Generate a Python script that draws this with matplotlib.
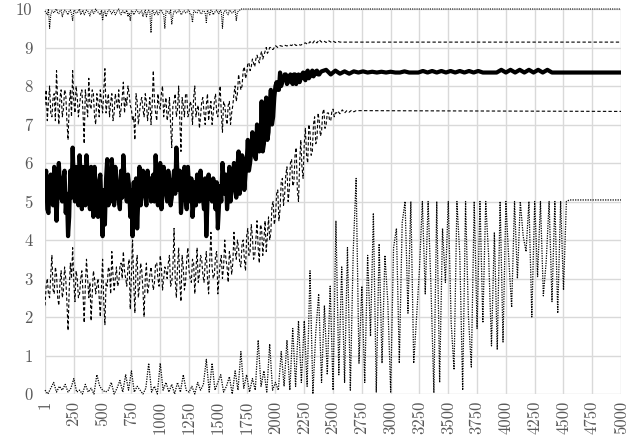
import numpy as np
import matplotlib
matplotlib.use("Agg")
import matplotlib.pyplot as plt

# ---------------- data ----------------
tick_values = [1, 250, 500, 750, 1000, 1250, 1500, 1750, 2000, 2250, 2500,
               2750, 3000, 3250, 3500, 3750, 4000, 4250, 4500, 4750, 5000]
tick_labels = [str(v) for v in tick_values]
y_ticks = list(range(0, 11))
x_end = 5000

# top series (near 10): samples every 20 iterations, plus in-between samples
top_step = 20
top_vals = [9.95, 9.85, 9.5, 9.95, 9.9, 10, 9.88, 9.97, 9.9, 9.95, 9.85, 9.97, 9.7, 9.95,
            9.9, 10, 9.92, 9.85, 9.97, 9.9, 9.95, 9.88, 10, 9.92, 9.85, 9.7, 9.95, 9.9,
            9.97, 9.87, 9.95, 9.9, 10, 9.85, 9.95, 9.92, 9.8, 9.7, 9.95, 9.9, 9.97, 9.88,
            9.95, 9.9, 9.8, 9.97, 9.38, 9.95, 9.9, 9.85, 9.97, 9.9, 9.5, 9.95, 9.88, 9.6,
            9.95, 9.9, 9.97, 9.85, 9.95, 9.9, 9.97, 9.85, 9.65, 9.95, 9.9, 9.97, 9.88, 9.95,
            9.65, 9.92, 9.97, 9.85, 9.95, 9.9, 9.97, 9.5, 9.95, 9.88, 9.97, 9.9, 9.95, 9.7,
            9.95, 10]
top_mid = [9.9, 10, 9.85, 9.92, 9.97, 9.9, 9.95, 9.8, 9.97, 9.9, 9.95, 9.88, 9.97, 9.9,
           9.95, 9.85, 9.97, 9.9, 9.95, 9.82, 9.97, 9.9, 9.95, 9.88, 9.97, 9.9, 9.8, 9.97,
           9.92, 9.95, 9.85, 9.97, 9.9, 9.95, 9.88, 9.97, 9.9, 9.95, 9.85, 9.97, 9.9, 9.95,
           9.8, 9.97, 9.9, 9.92, 9.97, 9.85, 9.95, 9.9, 9.97, 9.88, 9.95, 9.9, 9.97, 9.82,
           9.95, 9.9, 9.97, 9.88, 9.95, 9.9, 9.97, 9.85, 9.95, 9.9, 9.97, 9.88, 9.95, 9.9,
           9.97, 9.85, 9.95, 9.9, 9.97, 9.88, 9.95, 9.9, 9.97, 9.85, 9.95, 9.9, 9.97, 9.92,
           9.97]
top_plateau = 10.0

# upper band series
upper_step = 20
upper_vals = [7.5, 7.1, 8.0, 7.2, 7.8, 8.4, 7.0, 7.9, 7.4, 7.8, 6.6, 7.9, 8.4, 7.3, 7.7,
              7.5, 7.9, 6.5, 7.6, 8.2, 7.4, 7.8, 7.0, 7.6, 7.9, 7.3, 8.45, 7.6, 7.2, 7.8,
              7.3, 7.6, 7.9, 7.4, 8.1, 7.7, 8.0, 7.5, 7.1, 6.6, 7.6, 7.3, 7.7, 7.2, 7.6,
              7.4, 7.0, 8.4, 7.3, 7.8, 7.4, 8.0, 7.5, 7.1, 7.7, 6.4, 7.6, 7.2, 8.0, 6.3,
              7.5, 7.8, 7.2, 7.6, 7.0, 8.0, 7.4, 6.9, 7.6, 7.3, 7.5, 7.1, 7.6, 7.3, 7.8,
              7.2, 8.0, 6.8, 7.5, 7.0, 7.6, 7.3, 7.8, 7.6, 8.3, 7.9, 8.4, 8.2, 8.6, 8.4,
              8.7, 8.5, 8.8, 8.6, 8.9, 8.8, 9.0, 8.9, 9.0, 8.95, 9.05, 9.0, 9.05, 9.03,
              9.06, 9.04, 9.07, 9.05, 9.1, 9.05, 9.08, 9.06, 9.1, 9.12, 9.08, 9.15, 9.1,
              9.18, 9.12, 9.2, 9.14, 9.17, 9.13, 9.18, 9.14, 9.17, 9.13, 9.16, 9.14]
upper_mid = [7.9, 7.6, 7.3, 7.7, 7.1, 7.6, 7.7, 7.2, 7.9, 7.1, 7.5, 7.2, 7.6, 8.0, 7.2,
             7.8, 7.3, 7.9, 7.2, 7.5, 7.9, 7.2, 7.8, 7.2, 7.6, 7.9, 7.3, 7.8, 7.6, 7.1,
             7.8, 7.4, 7.2, 7.7, 7.3, 7.5, 7.8, 7.4, 7.2, 7.8, 7.0, 7.6, 7.4, 7.8, 7.1,
             7.7, 7.5, 7.6, 7.1, 7.5, 7.8, 7.2, 7.7, 7.3, 7.0, 7.5, 7.8, 7.4, 7.1, 7.7,
             7.2, 7.8, 7.3, 7.5, 7.7, 7.2, 7.5, 7.2, 7.7, 7.0, 7.8, 7.4, 7.0, 7.6, 7.3,
             7.6, 7.3, 7.6, 7.2, 7.5, 7.0, 7.5, 8.0, 7.8, 8.1, 8.0, 8.5, 8.3, 8.6, 8.5,
             8.6, 8.7, 8.7, 8.8, 8.7, 8.9, 8.85, 9.0, 8.95, 9.0]
upper_plateau = 9.14

# mean series (thick black)
mean_step = 20
mean_vals = [5.4, 4.8, 5.5, 5.0, 5.9, 4.5, 6.0, 5.1, 5.6, 4.7, 4.1, 5.8, 6.4, 5.0, 5.6,
             6.2, 4.8, 5.5, 6.2, 5.2, 5.9, 4.6, 5.4, 4.6, 5.7, 4.1, 4.4, 6.1, 5.3, 6.1,
             4.9, 5.6, 5.0, 5.8, 6.2, 5.3, 5.7, 4.6, 4.1, 5.0, 4.3, 5.9, 5.2, 5.6, 4.9,
             5.5, 5.0, 5.7, 6.2, 4.9, 6.0, 5.2, 5.6, 5.0, 5.5, 5.1, 5.8, 6.4, 5.3, 4.7,
             5.6, 5.1, 5.9, 5.0, 4.6, 5.5, 5.7, 5.0, 5.4, 4.8, 4.1, 5.7, 5.1, 5.6, 4.8,
             4.3, 5.4, 6.0, 5.2, 4.8, 5.9, 5.3, 6.0, 5.1, 6.3, 5.5, 6.1, 5.7, 6.6, 6.0,
             6.8, 6.2, 7.0, 6.3, 7.6, 6.5, 7.7, 6.8, 7.9, 7.2, 8.0, 7.9, 8.35, 8.1, 8.3,
             8.05, 8.25, 8.1, 8.3, 8.05, 8.3, 8.2, 8.35, 8.15, 8.4, 8.25, 8.4, 8.3, 8.4,
             8.3, 8.38]
mean_mid = [5.8, 4.7, 5.7, 4.9, 5.2, 5.3, 5.4, 5.0, 5.8, 5.2, 4.6, 5.1, 5.5, 5.9, 4.9,
            5.6, 5.9, 4.9, 5.7, 4.8, 5.3, 5.9, 5.0, 5.5, 4.9, 5.3, 5.6, 4.9, 5.0, 5.5,
            5.9, 5.2, 4.8, 5.1, 5.6, 5.0, 5.4, 5.3, 5.5, 5.6, 5.1, 4.9, 5.8, 5.2, 5.8,
            5.6, 5.3, 5.0, 5.5, 5.4, 4.8, 5.9, 5.3, 5.8, 4.9, 5.5, 5.2, 5.7, 5.8, 5.1,
            5.9, 4.8, 5.4, 5.6, 5.0, 4.9, 5.3, 5.8, 5.1, 5.6, 5.0, 5.3, 5.0, 5.3, 5.5,
            4.9, 5.0, 5.6, 5.7, 5.2, 5.0, 5.5, 5.4, 5.9, 5.2, 6.2, 5.3, 6.0, 5.8, 6.3,
            6.6, 6.1, 6.9, 6.4, 6.3, 7.4, 6.6, 7.5, 7.0, 7.7, 8.1, 7.9, 8.0, 8.2, 8.3,
            8.1, 8.3, 8.05, 8.3, 8.2, 8.1, 8.3, 8.2, 8.35, 8.2, 8.35, 8.25, 8.38, 8.3,
            8.35]
mean_tail_start = 2441
mean_tail_step = 40
mean_tail_vals = [8.42, 8.3, 8.4, 8.32, 8.38, 8.32, 8.38, 8.35, 8.38, 8.35, 8.37, 8.35,
                  8.37, 8.35, 8.37, 8.35, 8.35, 8.38, 8.35, 8.35, 8.35, 8.39, 8.35, 8.39,
                  8.35, 8.39, 8.35, 8.39, 8.35, 8.39, 8.35, 8.39, 8.35, 8.39, 8.35, 8.35,
                  8.35, 8.35, 8.42, 8.35, 8.42, 8.35, 8.42, 8.35, 8.42, 8.35, 8.42, 8.35,
                  8.42, 8.35]
mean_plateau = 8.35

# lower band series
lower_step = 20
lower_vals = [2.3, 3.0, 2.5, 3.6, 2.6, 3.1, 2.3, 3.2, 2.7, 3.0, 1.65, 3.4, 3.8, 2.4, 3.0,
              2.6, 3.2, 1.85, 3.5, 2.5, 1.9, 3.2, 2.6, 3.0, 2.0, 3.5, 1.8, 2.8, 3.2, 3.7,
              2.7, 3.3, 2.9, 3.4, 3.7, 3.0, 3.3, 2.2, 4.0, 2.1, 3.6, 2.8, 3.2, 2.0, 3.4,
              2.8, 3.3, 2.7, 3.4, 3.0, 3.6, 2.7, 3.3, 3.0, 3.6, 2.9, 4.3, 2.5, 3.8, 2.4,
              3.3, 2.9, 3.8, 3.0, 3.5, 2.6, 3.8, 3.1, 3.5, 2.9, 3.7, 2.6, 4.2, 3.0, 3.6,
              2.6, 3.4, 3.0, 4.0, 3.3, 3.7, 3.1, 4.2, 3.5, 3.8, 3.3, 4.0, 3.2, 4.3, 3.7,
              4.1, 3.6, 4.5, 3.4, 4.3, 4.0, 3.7, 4.6, 4.2, 5.0, 4.6, 5.3, 4.8, 5.6, 5.2,
              5.9, 5.3, 6.1, 5.5, 6.4, 5.0, 6.6, 5.6, 6.9, 6.0, 6.8, 6.3, 7.2, 6.6, 7.1,
              6.8, 7.4, 7.0, 7.3, 7.1, 7.4, 7.3, 7.35, 7.28, 7.38, 7.3, 7.36, 7.32, 7.37,
              7.33, 7.36]
lower_mid = [2.8, 2.6, 3.1, 2.7, 3.3, 2.5, 2.9, 2.5, 3.3, 2.4, 2.7, 3.0, 2.9, 3.2, 2.5,
             3.0, 2.6, 2.8, 3.0, 2.9, 2.6, 3.0, 2.8, 2.5, 2.8, 2.4, 2.9, 3.3, 2.6, 3.1,
             3.0, 2.8, 3.3, 3.0, 3.2, 2.8, 3.5, 3.1, 2.9, 3.3, 2.5, 3.4, 2.7, 3.0, 2.6,
             3.1, 3.0, 2.9, 3.4, 2.8, 3.3, 3.0, 3.2, 3.4, 2.8, 3.3, 3.0, 3.3, 2.9, 3.6,
             2.7, 3.5, 3.2, 2.9, 3.4, 3.2, 2.9, 3.6, 3.1, 3.4, 3.0, 3.5, 3.3, 3.1, 3.7,
             3.0, 3.6, 3.3, 3.5, 2.9, 3.5, 3.4, 3.7, 4.0, 3.4, 3.9, 3.5, 4.1, 3.6, 4.4,
             3.5, 4.0, 3.8, 4.4, 3.6, 4.5, 4.1, 4.0, 4.9, 4.4, 5.2, 4.5, 5.5, 4.9, 5.7,
             5.0, 6.0, 5.4, 6.2, 5.3, 6.0, 5.9, 6.5, 6.2, 7.0, 6.2, 7.0, 6.5, 7.3, 6.7,
             7.3, 6.9, 7.3, 7.1, 7.35, 7.2, 7.3]
lower_plateau = 7.34

# bottom series (near 0, later oscillating up to the cap)
bottom_step = 25
bottom_vals = [0.1, 0.0, 0.15, 0.3, 0.05, 0.2, 0.1, 0.25, 0.05, 0.15, 0.4, 0.05, 0.1, 0.0,
               0.25, 0.05, 0.15, 0.0, 0.5, 0.2, 0.1, 0.05, 0.1, 0.3, 0.0, 0.15, 0.35, 0.05,
               0.5, 0.1, 0.6, 0.05, 0.2, 0.1, 0.0, 0.15, 0.8, 0.05, 0.2, 0.0, 0.8, 0.1,
               0.3, 0.05, 0.25, 0.0, 0.3, 0.05, 0.5, 0.1, 0.05, 0.2, 0.0, 0.3, 0.1, 0.25,
               0.9, 0.05, 0.8, 0.1, 0.3, 0.5, 0.05, 0.2, 0.45, 0.0, 0.6, 0.1, 1.1, 0.15,
               0.5, 0.05, 0.4, 0.1, 1.4, 0.2, 0.6, 0.05, 1.3, 0.1, 0.3, 0.1, 1.1, 0.2,
               1.4, 0.1, 1.7, 0.2, 1.9, 0.3, 1.9, 0.2, 3.2, 0.0, 1.6, 2.6, 0.3, 2.3, 0.5,
               2.8, 0.1, 4.5, 0.5, 3.3, 0.3, 3.8, 0.1, 3.7, 5.6, 0.8, 2.8, 0.3, 3.6, 1.5,
               4.7, 0.05, 3.9, 0.8, 3.6, 2.4, 0.05, 3.8, 4.3, 0.8, 4.45, 5.0, 2.1, 5.0,
               0.8, 2.0, 3.25, 5.0, 2.6, 5.0, 2.75, 0.03, 5.0, 0.3, 4.3, 2.9, 5.0, 1.85,
               0.63, 5.0, 3.6, 0.1, 5.0, 2.0, 0.7, 5.0, 1.7, 5.0, 1.85, 5.0, 3.6, 1.25,
               4.2, 1.15, 5.0, 1.35, 5.0, 3.5, 2.25, 5.0, 3.0, 5.0, 4.1, 3.7, 5.0, 2.0,
               5.0, 3.05, 5.0, 2.55, 3.45, 5.0, 2.4, 5.0, 2.1, 5.0, 2.7, 5.0, 5.04]
bottom_plateau = 5.04


def series(vals, step, plateau, mid=None, start=1):
    """Main samples every `step`, optional in-between samples, then a plateau to x_end."""
    x = start + step * np.arange(len(vals))
    y = np.asarray(vals, dtype=float)
    if mid is not None:
        xm = start + step / 2 + step * np.arange(len(mid))
        x = np.r_[x, xm]
        y = np.r_[y, mid]
        order = np.argsort(x, kind='stable')
        x, y = x[order], y[order]
    return np.r_[x, x_end], np.r_[y, plateau]


# ---------------- figure ----------------
plt.rcParams['font.family'] = ['cmr10', 'DejaVu Serif']
plt.rcParams['axes.formatter.use_mathtext'] = True

fig = plt.figure(figsize=(6.34, 4.45), dpi=100)
ax = fig.add_axes([45 / 634, 1 - 394 / 445, 576 / 634, 385 / 445])

ax.set_xlim(1, x_end)
ax.set_ylim(0, 10)
ax.set_xticks(tick_values)
ax.set_xticklabels(tick_labels, rotation=90)
ax.set_yticks(y_ticks)
ax.set_yticklabels([str(v) for v in y_ticks])
ax.tick_params(axis='both', length=0, labelsize=12, labelcolor='#595959')
ax.tick_params(axis='x', pad=5)
ax.tick_params(axis='y', pad=9)
ax.grid(True, color='#d9d9d9', linewidth=1.0)
ax.set_axisbelow(True)
for s in ax.spines.values():
    s.set_visible(False)

dot = (0, (1, 1))
dash = (0, (3, 2))

x, y = series(top_vals, top_step, top_plateau, top_mid)
ax.plot(x, y, color='black', lw=0.8, linestyle=dot, clip_on=False)
x, y = series(upper_vals, upper_step, upper_plateau, upper_mid)
ax.plot(x, y, color='black', lw=0.8, linestyle=dash)
x, y = series(lower_vals, lower_step, lower_plateau, lower_mid)
ax.plot(x, y, color='black', lw=0.8, linestyle=dash)
x, y = series(bottom_vals, bottom_step, bottom_plateau)
ax.plot(x, y, color='black', lw=0.9, linestyle=dot, clip_on=False)

xm, ym = series(mean_vals, mean_step, mean_plateau, mean_mid)
xt = mean_tail_start + mean_tail_step * np.arange(len(mean_tail_vals))
xm = np.r_[xm[:-1], xt, xm[-1]]
ym = np.r_[ym[:-1], mean_tail_vals, ym[-1]]
ax.plot(xm, ym, color='black', lw=3.0)

fig.savefig('out.png', dpi=100)
